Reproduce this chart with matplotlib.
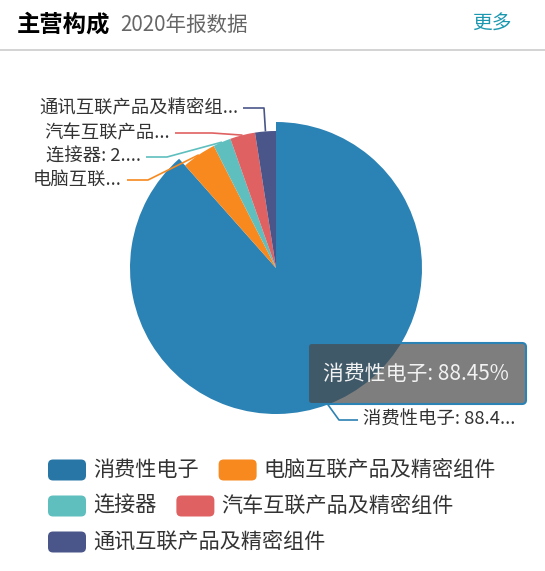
import numpy as np
import matplotlib
matplotlib.use("Agg")
import matplotlib.pyplot as plt
from matplotlib.patches import FancyBboxPatch

plt.rcParams['font.family'] = ['Noto Sans CJK SC', 'DejaVu Sans']

# data
names = ['消费性电子', '电脑互联产品及精密组件', '连接器', '汽车互联产品及精密组件', '通讯互联产品及精密组件']
values = [88.45, 4.05, 2.10, 2.95, 2.45]
colors = ['#2776a6', '#f7891f', '#5fbfbf', '#e06161', '#4a5689']
label_chars = [11, 4, 7, 6, 10]   # how many characters survive truncation

W, H = 545, 571


def Y(py):
    # screen pixel row -> data y (y axis points up)
    return H - py


fig = plt.figure(figsize=(W / 100, H / 100), dpi=100)
ax = fig.add_axes([0, 0, 1, 1])

# pie
cx, cy, r = 276, 268, 137
wedges, _ = ax.pie(values, colors=colors, startangle=90, counterclock=False,
                   center=(cx, Y(cy)), radius=r,
                   wedgeprops=dict(linewidth=0))
# hovered slice is emphasised
wedges[0].set_radius(146)
wedges[0].set_facecolor('#2b82b4')
ax.set_xlim(0, W)
ax.set_ylim(0, H)
ax.set_aspect('auto')
ax.axis('off')

# leader lines + labels (echarts style layout)
label_y = [420, 180, 157, 133, 108]
elbow_x = [339, 148, 167, 212, 264]
end_x = [358, 127, 146, 175, 243]
for i, w in enumerate(wedges):
    mid = np.deg2rad((w.theta1 + w.theta2) / 2)
    rr = w.r
    x0, y0 = cx + rr * np.cos(mid), Y(cy) + rr * np.sin(mid)
    full = '%s: %.2f%%' % (names[i], values[i])
    txt = full[:label_chars[i]] + '...'
    ax.plot([x0, elbow_x[i], end_x[i]], [y0, Y(label_y[i]), Y(label_y[i])],
            color=w.get_facecolor(), lw=1.2, solid_capstyle='butt')
    if end_x[i] > cx:
        ax.text(end_x[i] + 5, Y(label_y[i]), txt, ha='left', va='center',
                fontsize=13.2, color='#333333')
    else:
        ax.text(end_x[i] - 5, Y(label_y[i]), txt, ha='right', va='center',
                fontsize=13.2, color='#333333')

# tooltip
tip = FancyBboxPatch((308, Y(404)), 218, 61, boxstyle='round,pad=0,rounding_size=4',
                     facecolor=(72 / 255, 72 / 255, 72 / 255, 0.7),
                     edgecolor='#2b82b4', linewidth=1.5, zorder=5)
ax.add_patch(tip)
ax.text(416, Y(374), '%s: %.2f%%' % (names[0], values[0]), ha='center', va='center',
        fontsize=15, color='#f2f2f2', zorder=6)

# header
ax.text(17, Y(25), '主营构成', fontsize=16.8, fontweight='bold', color='black',
        ha='left', va='center')
ax.text(120, Y(25), '2020年报数据', fontsize=14.8, color='#666666',
        ha='left', va='center')
ax.text(512, Y(24), '更多', fontsize=14.2, color='#1b98b0', ha='right', va='center')
ax.plot([0, W], [Y(50), Y(50)], color='#cccccc', lw=1.2)

# legend (flow layout)
fig.canvas.draw()
renderer = fig.canvas.get_renderer()
x, row = 48, 0
rows_y = [470, 506, 542]
for i in range(len(names)):
    t = ax.text(0, 0, names[i], fontsize=15.2, color='#333333', ha='left', va='center')
    tw = t.get_window_extent(renderer).width
    if x + 38 + 7 + tw > W - 10:
        x, row = 48, row + 1
    yy = Y(rows_y[row])
    ax.add_patch(FancyBboxPatch((x, yy - 10.5), 38, 21,
                                boxstyle='round,pad=0,rounding_size=5',
                                facecolor=colors[i], edgecolor='none'))
    t.set_position((x + 45, yy))
    x += 45 + tw + 20

fig.savefig('out.png', dpi=100)
